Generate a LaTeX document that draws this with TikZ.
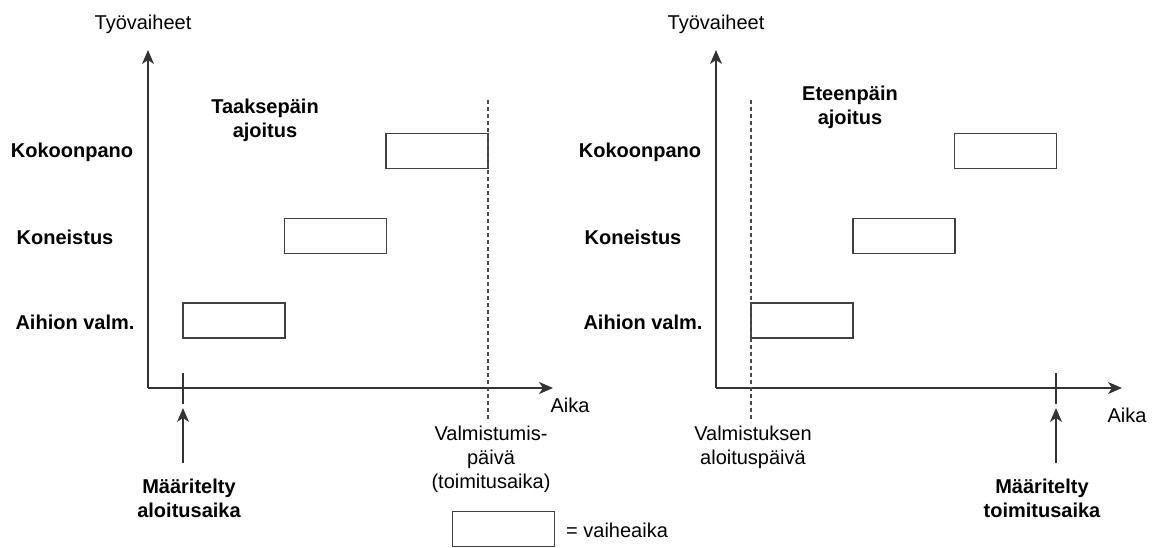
\documentclass[tikz,border=0pt]{standalone}
\usepackage{fontspec}
\setmainfont{Liberation Sans}
\usetikzlibrary{arrows.meta}

\begin{document}
\begin{tikzpicture}[
    x=1pt, y=-1pt,
    axis/.style={line width=1.5pt, draw=black!80, -{Stealth[length=14pt, width=12pt, inset=4pt]}},
    tick/.style={line width=1.5pt, draw=black!80},
    guide/.style={line width=1.3pt, draw=black!70, dash pattern=on 4pt off 3pt},
    phase/.style={rectangle, draw=black!75, line width=1.5pt, minimum width=102pt, minimum height=35pt, inner sep=0pt},
    lbl/.style={font=\fontsize{20}{24}\selectfont\bfseries, align=center, inner sep=0pt},
    txt/.style={font=\fontsize{20}{24}\selectfont, align=center, inner sep=0pt}
]
\useasboundingbox (0,0) rectangle (1157,547);

% ---- backward scheduling (left) ----
\coordinate (o1) at (148,388);
\coordinate (y1) at (148,50);
\coordinate (x1) at (553,388);
\draw[axis] (o1) -- (y1);
\draw[axis] (o1) -- (x1);

\node[txt] (ty1) at (143,24) {Työvaiheet};
\node[txt] (aika1) at (570,405) {Aika};
\node[lbl] (title1) at (265,120) {Taaksepäin\\ajoitus};

\node[lbl] (kok1) at (72,152) {Kokoonpano};
\node[lbl] (kon1) at (65,237) {Koneistus};
\node[lbl] (aih1) at (75,322) {Aihion valm.};

\node[phase] (pk1) at (437,151) {};
\node[phase] (pn1) at (335.5,236) {};
\node[phase] (pa1) at (234,320.5) {};

\coordinate (d1t) at (488,100);
\coordinate (d1b) at (488,422);
\draw[guide] (d1t) -- (d1b);
\node[txt] (due1) at (491,459) {Valmistumis-\\päivä\\(toimitusaika)};

\coordinate (t1t) at (183,373);
\coordinate (t1b) at (183,404);
\draw[tick] (t1t) -- (t1b);
\node[lbl] (start1) at (189,498.5) {Määritelty\\aloitusaika};
\coordinate (a1) at (183,463);
\coordinate (a1e) at (183,408);
\draw[axis] (a1) -- (a1e);

% ---- forward scheduling (right) ----
\coordinate (o2) at (716,388);
\coordinate (y2) at (716,50);
\coordinate (x2) at (1122,388);
\draw[axis] (o2) -- (y2);
\draw[axis] (o2) -- (x2);

\node[txt] (ty2) at (716,24) {Työvaiheet};
\node[txt] (aika2) at (1127,415) {Aika};
\node[lbl] (title2) at (850,107.5) {Eteenpäin\\ajoitus};

\node[lbl] (kok2) at (640,152) {Kokoonpano};
\node[lbl] (kon2) at (633,237) {Koneistus};
\node[lbl] (aih2) at (643,322) {Aihion valm.};

\node[phase] (pk2) at (1005.5,151) {};
\node[phase] (pn2) at (904,236) {};
\node[phase] (pa2) at (802,320.5) {};

\coordinate (d2t) at (751,100);
\coordinate (d2b) at (751,422);
\draw[guide] (d2t) -- (d2b);
\node[txt] (start2) at (753,447.5) {Valmistuksen\\aloituspäivä};

\coordinate (t2t) at (1056,373);
\coordinate (t2b) at (1056,404);
\draw[tick] (t2t) -- (t2b);
\node[lbl] (due2) at (1042,498.5) {Määritelty\\toimitusaika};
\coordinate (a2) at (1056,463);
\coordinate (a2e) at (1056,408);
\draw[axis] (a2) -- (a2e);

% ---- legend ----
\node[phase] (key) at (503.5,529) {};
\node[txt, anchor=west] (keytxt) at (566,530) {= vaiheaika};

\end{tikzpicture}
\end{document}
